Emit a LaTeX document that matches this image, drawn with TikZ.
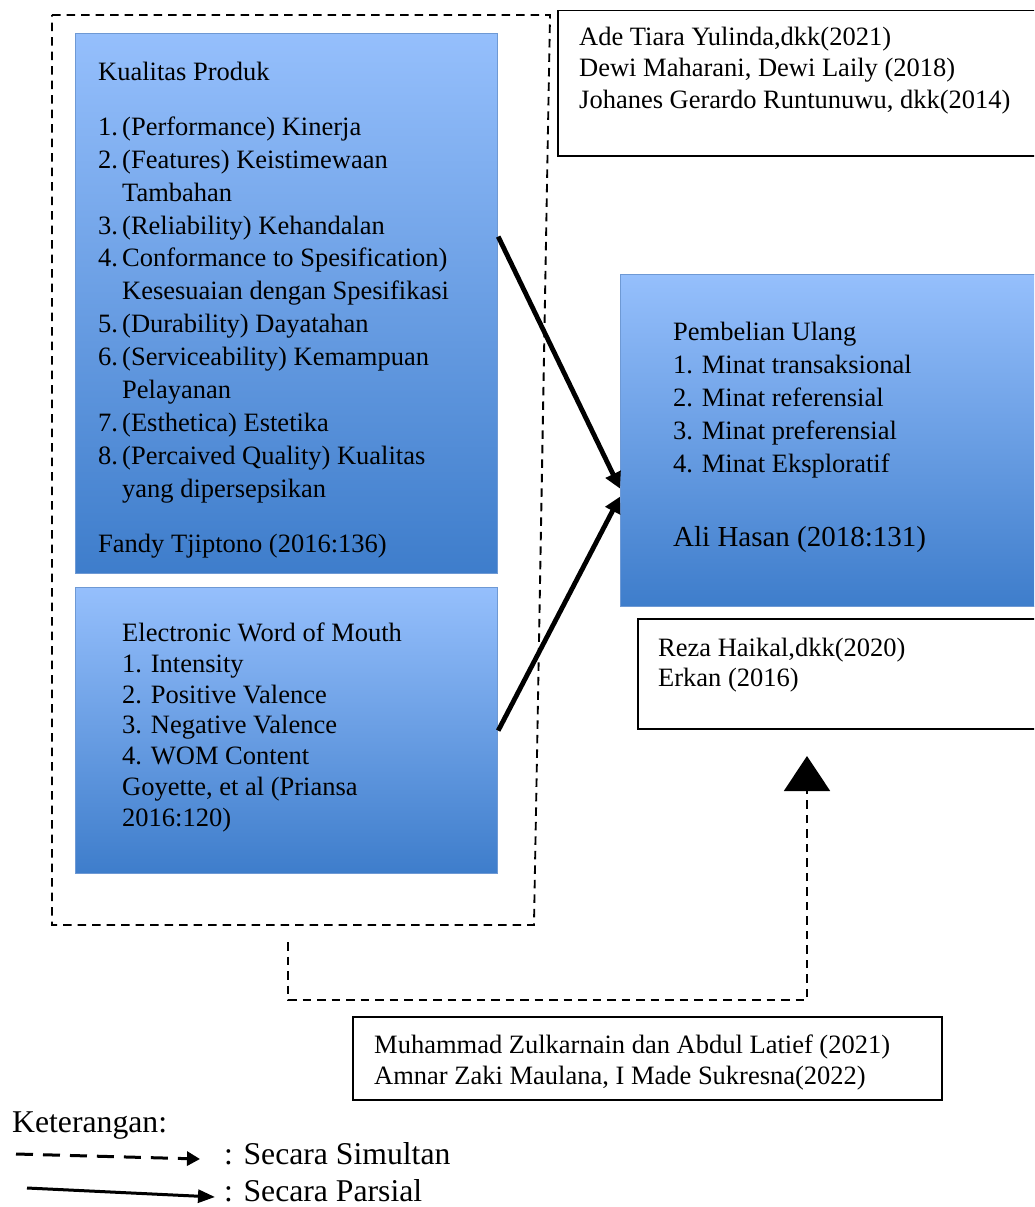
\documentclass[tikz,border=0pt]{standalone}
\usepackage{fontspec}
\setmainfont{Liberation Serif}
\usetikzlibrary{arrows.meta,positioning,calc}
\definecolor{birumuda}{HTML}{95BFFC}
\definecolor{birutua}{HTML}{3E7DCB}
\definecolor{garisbiru}{HTML}{6E99D4}
\tikzset{
  kotakbiru/.style={draw=garisbiru, line width=1.2pt, top color=birumuda, bottom color=birutua, inner sep=0pt, anchor=north west},
  rujukan/.style={draw=black, line width=1.5pt, fill=white, inner sep=0pt, anchor=north west},
  baris/.style={anchor=base west, inner sep=0pt},
  putus/.style={line width=1.9pt, dash pattern=on 8.5pt off 6pt},
  parsial/.style={line width=4.8pt, -{Triangle[length=16pt,width=16pt]}}
}
\begin{document}
\begin{tikzpicture}[x=1pt, y=-1pt, font=\fontsize{26.5}{31}\selectfont]
\useasboundingbox (0,0) rectangle (1034,1207);
\clip (0,0) rectangle (1034,1207);
\draw[putus] (52,15) -- (550,15) -- (534,925) -- (52,925) -- cycle;
\node[kotakbiru, minimum width=422, minimum height=540] (kp) at (75,33) {};
\node[kotakbiru, minimum width=422, minimum height=286] (ewom) at (75,587) {};
\node[kotakbiru, minimum width=430, minimum height=332] (pu) at (620,274) {};
\node[rujukan, minimum width=490, minimum height=145] (refkp) at (557,10) {};
\node[rujukan, minimum width=420, minimum height=110] (refpu) at (637,618) {};
\node[rujukan, minimum width=589, minimum height=83] (refsim) at (352,1016) {};
\node[baris] (kpjudul) at (98,81) {Kualitas Produk};
\foreach \y/\n/\t in {135/1./{(Performance) Kinerja}, 168/2./{(Features) Keistimewaan}, 201//Tambahan,
  234/3./{(Reliability) Kehandalan}, 266/4./{Conformance to Spesification)}, 299//{Kesesuaian dengan Spesifikasi},
  332/5./{(Durability) Dayatahan}, 365/6./{(Serviceability) Kemampuan}, 398//Pelayanan,
  431/7./{(Esthetica) Estetika}, 464/8./{(Percaived Quality) Kualitas}, 497//{yang dipersepsikan}}{
  \node[baris] (kpn\y) at (98,\y) {\n};
  \node[baris] (kpt\y) at (122,\y) {\t};
}
\node[baris] (kpsumber) at (98,552) {Fandy Tjiptono (2016:136)};
\foreach \y/\t in {641/{Electronic Word of Mouth}, 672/{1. Intensity}, 703/{2. Positive Valence}, 733/{3. Negative Valence},
  764/{4. WOM Content}, 795/{Goyette, et al (Priansa}, 826/{2016:120)}}
  \node[baris] (ew\y) at (122,\y) {\t};
\foreach \y/\t in {340/{Pembelian Ulang}, 373/{1. Minat transaksional}, 406/{2. Minat referensial},
  439/{3. Minat preferensial}, 472/{4. Minat Eksploratif}}
  \node[baris] (pu\y) at (673,\y) {\t};
\node[baris, font=\fontsize{29}{34}\selectfont] (pusumber) at (673,546) {Ali Hasan (2018:131)};
\foreach \y/\t in {46/{Ade Tiara Yulinda,dkk(2021)}, 77/{Dewi Maharani, Dewi Laily (2018)}, 108/{Johanes Gerardo Runtunuwu, dkk(2014)}}
  \node[baris] (rk\y) at (579,\y) {\t};
\foreach \y/\t in {656/{Reza Haikal,dkk(2020)}, 686/{Erkan (2016)}}
  \node[baris] (rp\y) at (658,\y) {\t};
\foreach \y/\t in {1053/{Muhammad Zulkarnain dan Abdul Latief (2021)}, 1084/{Amnar Zaki Maulana, I Made Sukresna(2022)}}
  \node[baris] (rs\y) at (374,\y) {\t};
\draw[parsial] ([yshift=67pt]kp.east) -- ([yshift=-48pt]pu.west);
\draw[parsial] (ewom.east) -- ([yshift=-56pt]pu.west);
\coordinate (simawal) at (288,942);
\coordinate (simbelok) at (288,1000);
\coordinate (simujung) at (807,756);
\draw[putus, -{Triangle[length=35pt,width=46pt]}] (simawal) -- (simbelok) -| (simujung);
\begin{scope}[font=\fontsize{31.7}{37}\selectfont]
\node[baris] (ket) at (12,1132) {Keterangan:};
\coordinate (lgA) at (16,1154);
\coordinate (lgB) at (200,1159);
\coordinate (lgC) at (27,1188);
\coordinate (lgD) at (215,1197);
\draw[line width=3pt, dash pattern=on 17pt off 10pt, -{Triangle[length=13pt,width=14pt]}] (lgA) -- (lgB);
\draw[line width=3pt, -{Triangle[length=17pt,width=13pt]}] (lgC) -- (lgD);
\node[baris] (ketsim) at (224,1164) {: Secara Simultan};
\node[baris] (ketpar) at (224,1201) {: Secara Parsial};
\end{scope}
\end{tikzpicture}
\end{document}
